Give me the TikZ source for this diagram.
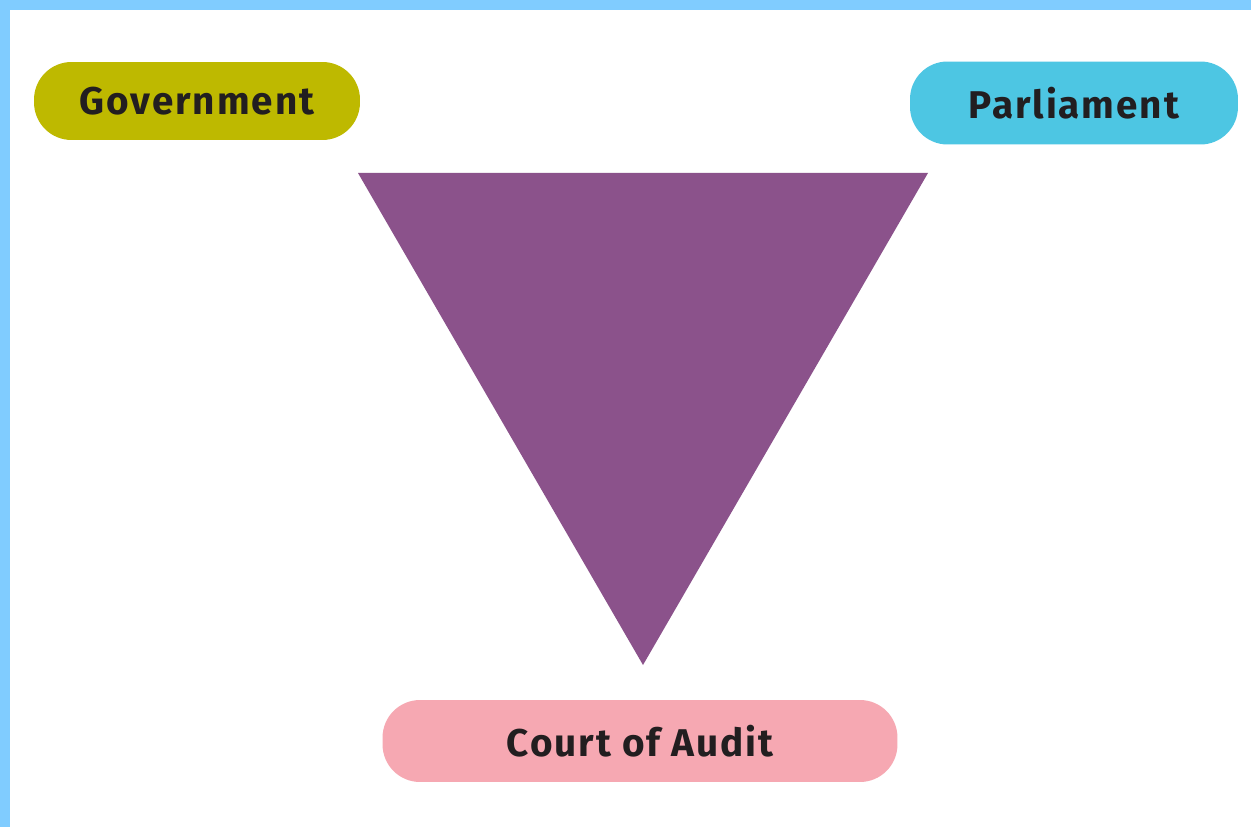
\documentclass[tikz,border=0pt]{standalone}
\usepackage{fontspec}
\setmainfont{Fira Sans}[LetterSpace=5]
\usepackage{tikz}
\usetikzlibrary{calc}

\definecolor{frameblue}{RGB}{128,204,255}
\definecolor{govyellow}{RGB}{190,185,0}
\definecolor{parlblue}{RGB}{77,198,227}
\definecolor{auditpink}{RGB}{246,168,178}
\definecolor{trianglepurple}{RGB}{139,82,139}
\definecolor{labeltext}{RGB}{34,30,32}

\begin{document}
\begin{tikzpicture}[x=0.02cm, y=-0.02cm,
        box_style/.style={rectangle, rounded corners=0.75cm, inner sep=0pt,
            text=labeltext, font=\fontsize{22}{26}\selectfont\bfseries},
        triangle_style/.style={fill=trianglepurple, draw=none}]

        % frame
        \fill [white] (0,0) rectangle (1251,827);
        \fill [frameblue] (0,0) rectangle (1251,10);
        \fill [frameblue] (0,0) rectangle (10,827);
        \useasboundingbox (0,0) rectangle (1251,827);

        \node [box_style, fill=govyellow, minimum width=6.52cm, minimum height=1.56cm] (gov) at (197,101) {Government};

        \node [box_style, fill=parlblue, minimum width=6.56cm, minimum height=1.66cm] (parl) at (1074,103) {Parliament};

        \node [box_style, fill=auditpink, minimum width=10.3cm, minimum height=1.64cm] (audit) at (640,741) {Court of Audit};

        % triangle
        \coordinate (tl) at (358,173);
        \coordinate (tr) at (928,173);
        \coordinate (tb) at (643,665);
        \fill [triangle_style] (tl) -- (tr) -- (tb) -- cycle;

\end{tikzpicture}
\end{document}
